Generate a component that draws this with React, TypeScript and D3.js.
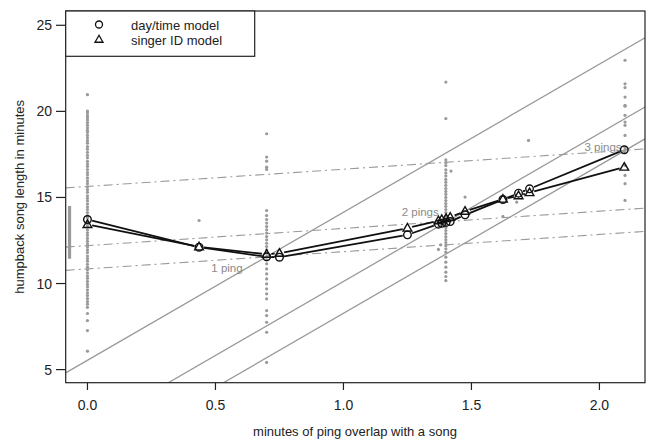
import * as d3 from 'd3';

// scatter columns (song length, minutes) at each overlap value
const col0X = 0;
const col0Y = [
  20.97, 20.02, 19.9, 19.75, 19.62, 19.5, 19.35, 19.2, 19.05, 18.9, 18.78, 18.6, 18.45, 18.3, 18.15, 17.95,
  17.8, 17.62, 17.45, 17.3, 17.1, 16.95, 16.8, 16.62, 16.45, 16.3, 16.12, 15.95, 15.8, 15.62, 15.45, 15.3,
  15.1, 14.95, 14.8, 14.62, 14.45, 14.3, 14.12, 13.95, 13.8, 13.6, 13.45, 13.3, 13.12, 12.95, 12.8, 12.62,
  12.45, 12.3, 12.12, 11.95, 11.8, 11.6, 11.45, 11.3, 11.12, 10.95, 10.8, 10.62, 10.45, 10.3, 10.12, 9.95,
  9.8, 9.62, 9.45, 9.3, 9.12, 8.95, 8.8, 8.62, 8.26, 7.85, 7.27, 6.07,
];
const col07X = 0.7;
const col07Y = [
  18.7, 17.35, 17.11, 16.76, 16.63, 14.24, 13.95, 13.72, 13.51, 13.31, 13.12, 12.93, 12.73, 12.54, 12.34,
  12.15, 11.96, 11.76, 11.57, 11.38, 11.15, 10.85, 10.56, 10.27, 9.98, 9.69, 9.4, 9.11, 8.43, 8.14, 7.75,
  7.17, 5.42,
];
const col14X = 1.4;
const col14Y = [
  21.7, 19.58, 17.19, 17.02, 16.85, 16.6, 16.42, 16.25, 16.05, 15.88, 15.7, 15.52, 15.35, 15.18, 15.0,
  14.82, 14.65, 14.48, 14.3, 14.12, 13.95, 13.78, 13.6, 13.42, 13.25, 13.08, 12.9, 12.72, 12.55, 12.38,
  12.2, 12.02, 11.82, 11.53, 11.24, 10.95, 10.66, 10.41, 10.17,
];
const col21X = 2.1;
const col21Y = [
  22.97, 21.6, 21.38, 20.83, 20.35, 20.3, 19.77, 19.38, 19.19, 18.6, 17.9, 17.77, 17.6, 16.86, 16.28,
  15.8, 14.83,
];
// loose songs between the columns
const looseX = [0.436, 1.723, 1.42, 1.475, 1.623, 1.677, 1.371, 1.38];
const looseY = [13.66, 18.31, 16.53, 15.02, 13.9, 14.73, 11.98, 12.25];

// fitted model curves
const modelX = [0, 0.436, 0.7, 0.75, 1.25, 1.371, 1.384, 1.401, 1.417, 1.475, 1.623, 1.684, 1.727, 2.097];
const dayTimeY = [13.72, 12.11, 11.55, 11.53, 12.83, 13.45, 13.5, 13.55, 13.6, 13.99, 14.88, 15.25, 15.5, 17.77];
const singerY = [13.43, 12.13, 11.7, 11.76, 13.22, 13.65, 13.72, 13.78, 13.85, 14.2, 14.9, 15.1, 15.28, 16.76];

// reference range for songs without pings
const refBarX = -0.07;
const refBarY = [11.44, 14.5];

// dash-dot ping lines (slope 1) and solid diagonals
const dashIntercepts = [15.64, 12.2, 10.85];
const dashSlope = 1.0;
const diagIntercepts = [5.54, 1.52, -0.33];
const diagSlope = 8.6;

const pingLabels = ['1 ping', '2 pings', '3 pings'];
const pingLabelX = [0.545, 1.3, 2.014];
const pingLabelY = [10.91, 14.16, 17.93];

const xTicks = [0, 0.5, 1.0, 1.5, 2.0];
const yTicks = [5, 10, 15, 20, 25];
const legendLabels = ['day/time model', 'singer ID model'];

const W = 651;
const H = 442;
const FONT = '"Liberation Sans", Arial, Helvetica, sans-serif';
const GRAY = '#9a9a9a';

export default function App() {
  const x = d3.scaleLinear().domain([-0.085, 2.178]).range([65.7, 645]);
  const y = d3.scaleLinear().domain([4.24, 25.83]).range([382.7, 11]);
  const [x0, x1] = x.domain();

  const line = d3.line<number>().x((d) => x(d)).y((d) => d);

  const dots: [number, number][] = [
    ...col0Y.map((v) => [col0X, v] as [number, number]),
    ...col07Y.map((v) => [col07X, v] as [number, number]),
    ...col14Y.map((v) => [col14X, v] as [number, number]),
    ...col21Y.map((v) => [col21X, v] as [number, number]),
    ...looseX.map((v, i) => [v, looseY[i]] as [number, number]),
  ];

  // R type="b": segments stop short of each point
  const gapSegments = (ys: number[]) => {
    const segs: string[] = [];
    for (let i = 0; i < modelX.length - 1; i++) {
      const ax = x(modelX[i]), ay = y(ys[i]);
      const bx = x(modelX[i + 1]), by = y(ys[i + 1]);
      const len = Math.hypot(bx - ax, by - ay);
      const gap = 4.8;
      if (len <= gap * 2) continue;
      const ux = (bx - ax) / len, uy = (by - ay) / len;
      segs.push(`M${ax + ux * gap},${ay + uy * gap}L${bx - ux * gap},${by - uy * gap}`);
    }
    return segs.join('');
  };

  const tri = (cx: number, cy: number, s = 4.6) =>
    `M${cx},${cy - s}L${cx + s * 0.95},${cy + s * 0.65}L${cx - s * 0.95},${cy + s * 0.65}Z`;

  return (
    <svg width={W} height={H} style={{ position: 'absolute', left: 0, top: 0, background: '#fff' }} fontFamily={FONT}>
      <defs>
        <clipPath id="plot">
          <rect x={65.7} y={11} width={645 - 65.7} height={382.7 - 11} />
        </clipPath>
      </defs>

      <g clipPath="url(#plot)">
        {diagIntercepts.map((b, i) => (
          <path key={`d${i}`} d={`M${x(x0)},${y(b + diagSlope * x0)}L${x(x1)},${y(b + diagSlope * x1)}`}
            stroke={GRAY} strokeWidth={1.3} fill="none" />
        ))}
        {dashIntercepts.map((b, i) => (
          <path key={`p${i}`} d={`M${x(x0)},${y(b + dashSlope * x0)}L${x(x1)},${y(b + dashSlope * x1)}`}
            stroke={GRAY} strokeWidth={1.1} fill="none" strokeDasharray="9,4,2,4" />
        ))}
        {dots.map(([dx, dy], i) => (
          <circle key={`s${i}`} cx={x(dx)} cy={y(dy)} r={1.6} fill={GRAY} />
        ))}
        <line x1={x(refBarX)} x2={x(refBarX)} y1={y(refBarY[0])} y2={y(refBarY[1])} stroke={GRAY} strokeWidth={3.2} />
      </g>

      {pingLabels.map((t, i) => (
        <text key={t} x={x(pingLabelX[i])} y={y(pingLabelY[i])} textAnchor="middle" dominantBaseline="central"
          fontSize={11.5} fill="#8a8a8a">{t}</text>
      ))}

      <path d={gapSegments(dayTimeY)} stroke="#111" strokeWidth={1.8} fill="none" />
      <path d={gapSegments(singerY)} stroke="#111" strokeWidth={1.8} fill="none" />
      {modelX.map((mx, i) => (
        <circle key={`c${i}`} cx={x(mx)} cy={y(dayTimeY[i])} r={3.8} fill="none" stroke="#111" strokeWidth={1.4} />
      ))}
      {modelX.map((mx, i) => (
        <path key={`t${i}`} d={tri(x(mx), y(singerY[i]))} fill="none" stroke="#111" strokeWidth={1.4} />
      ))}

      {/* frame */}
      <rect x={65.7} y={11} width={645 - 65.7} height={382.7 - 11} fill="none" stroke="#222" strokeWidth={1.2} />

      {xTicks.map((t) => (
        <g key={`xt${t}`}>
          <line x1={x(t)} x2={x(t)} y1={382.7} y2={390} stroke="#222" strokeWidth={1.2} />
          <text x={x(t)} y={410} textAnchor="middle" fontSize={14} fill="#222">{d3.format('.1f')(t)}</text>
        </g>
      ))}
      {yTicks.map((t) => (
        <g key={`yt${t}`}>
          <line x1={56} x2={65.7} y1={y(t)} y2={y(t)} stroke="#222" strokeWidth={1.2} />
          <text x={52} y={y(t)} textAnchor="end" dominantBaseline="central" fontSize={14} fill="#222">{t}</text>
        </g>
      ))}

      <text x={355} y={436} textAnchor="middle" fontSize={13} fill="#222">minutes of ping overlap with a song</text>
      <text transform={`translate(19,${(11 + 382.7) / 2}) rotate(-90)`} textAnchor="middle" dominantBaseline="central"
        fontSize={13} fill="#222">humpback song length in minutes</text>

      {/* legend */}
      <rect x={65.7} y={11} width={189} height={45.3} fill="#fff" stroke="#222" strokeWidth={1.2} />
      <circle cx={99} cy={24.5} r={3.5} fill="none" stroke="#111" strokeWidth={1.3} />
      <path d={tri(99, 39.5, 4.2)} fill="none" stroke="#111" strokeWidth={1.3} />
      {legendLabels.map((t, i) => (
        <text key={t} x={131} y={25.5 + i * 15} dominantBaseline="central" fontSize={13} fill="#222">{t}</text>
      ))}
    </svg>
  );
}
